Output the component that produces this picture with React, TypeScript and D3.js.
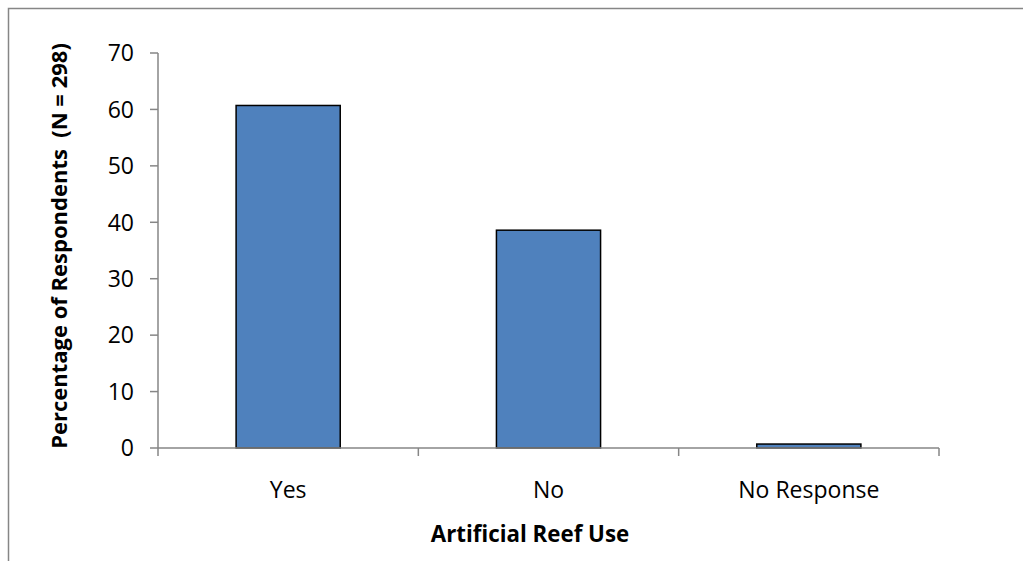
import React from "react";
import * as d3 from "d3";

const categories = ["Yes", "No", "No Response"];
const values = [60.7, 38.6, 0.7];
const yTicks = [0, 10, 20, 30, 40, 50, 60, 70];

export default function App() {
  const W = 1023, H = 561;
  const left = 158, right = 939, top = 53, bottom = 448;
  const x = d3.scaleBand<string>().domain(categories).range([left, right]).paddingInner(0.6).paddingOuter(0.3);
  const y = d3.scaleLinear().domain([0, 70]).range([bottom, top]);
  const step = (right - left) / categories.length;
  const font = "'Open Sans', sans-serif";
  return (
    <svg width={W} height={H} style={{ position: "absolute", left: 0, top: 0 }} fontFamily={font}>
      <rect x={0} y={0} width={W} height={H} fill="#fff" />
      <path d={`M8.5,${H} V8.5 H${W}`} fill="none" stroke="#868686" strokeWidth={1.5} />
      {categories.map((c, i) => (
        <rect key={c} x={x(c)} y={y(values[i])} width={x.bandwidth()} height={bottom - y(values[i])}
          fill="#4F81BD" stroke="#000" strokeWidth={1.5} />
      ))}
      <line x1={left} x2={left} y1={top} y2={bottom} stroke="#868686" strokeWidth={1.5} />
      <line x1={left} x2={right} y1={bottom} y2={bottom} stroke="#868686" strokeWidth={1.5} />
      {yTicks.map(t => (
        <g key={t}>
          <line x1={left - 8} x2={left} y1={y(t)} y2={y(t)} stroke="#868686" strokeWidth={1.5} />
          <text x={134} y={y(t)} dy="0.36em" textAnchor="end" fontSize={23} fill="#000">{t}</text>
        </g>
      ))}
      {d3.range(categories.length + 1).map(i => (
        <line key={i} x1={left + i * step} x2={left + i * step} y1={bottom} y2={bottom + 8} stroke="#868686" strokeWidth={1.5} />
      ))}
      {categories.map(c => (
        <text key={c} x={(x(c) as number) + x.bandwidth() / 2} y={498} textAnchor="middle" fontSize={23} fill="#000">{c}</text>
      ))}
      <text x={530} y={542} textAnchor="middle" fontSize={22.3} fontWeight="bold" fill="#000">Artificial Reef Use</text>
      <text transform={`translate(67,246) rotate(-90)`} textAnchor="middle" fontSize={22} fontWeight="bold" fill="#000" style={{ whiteSpace: "pre" }}>Percentage of Respondents  (N = 298)</text>
    </svg>
  );
}
